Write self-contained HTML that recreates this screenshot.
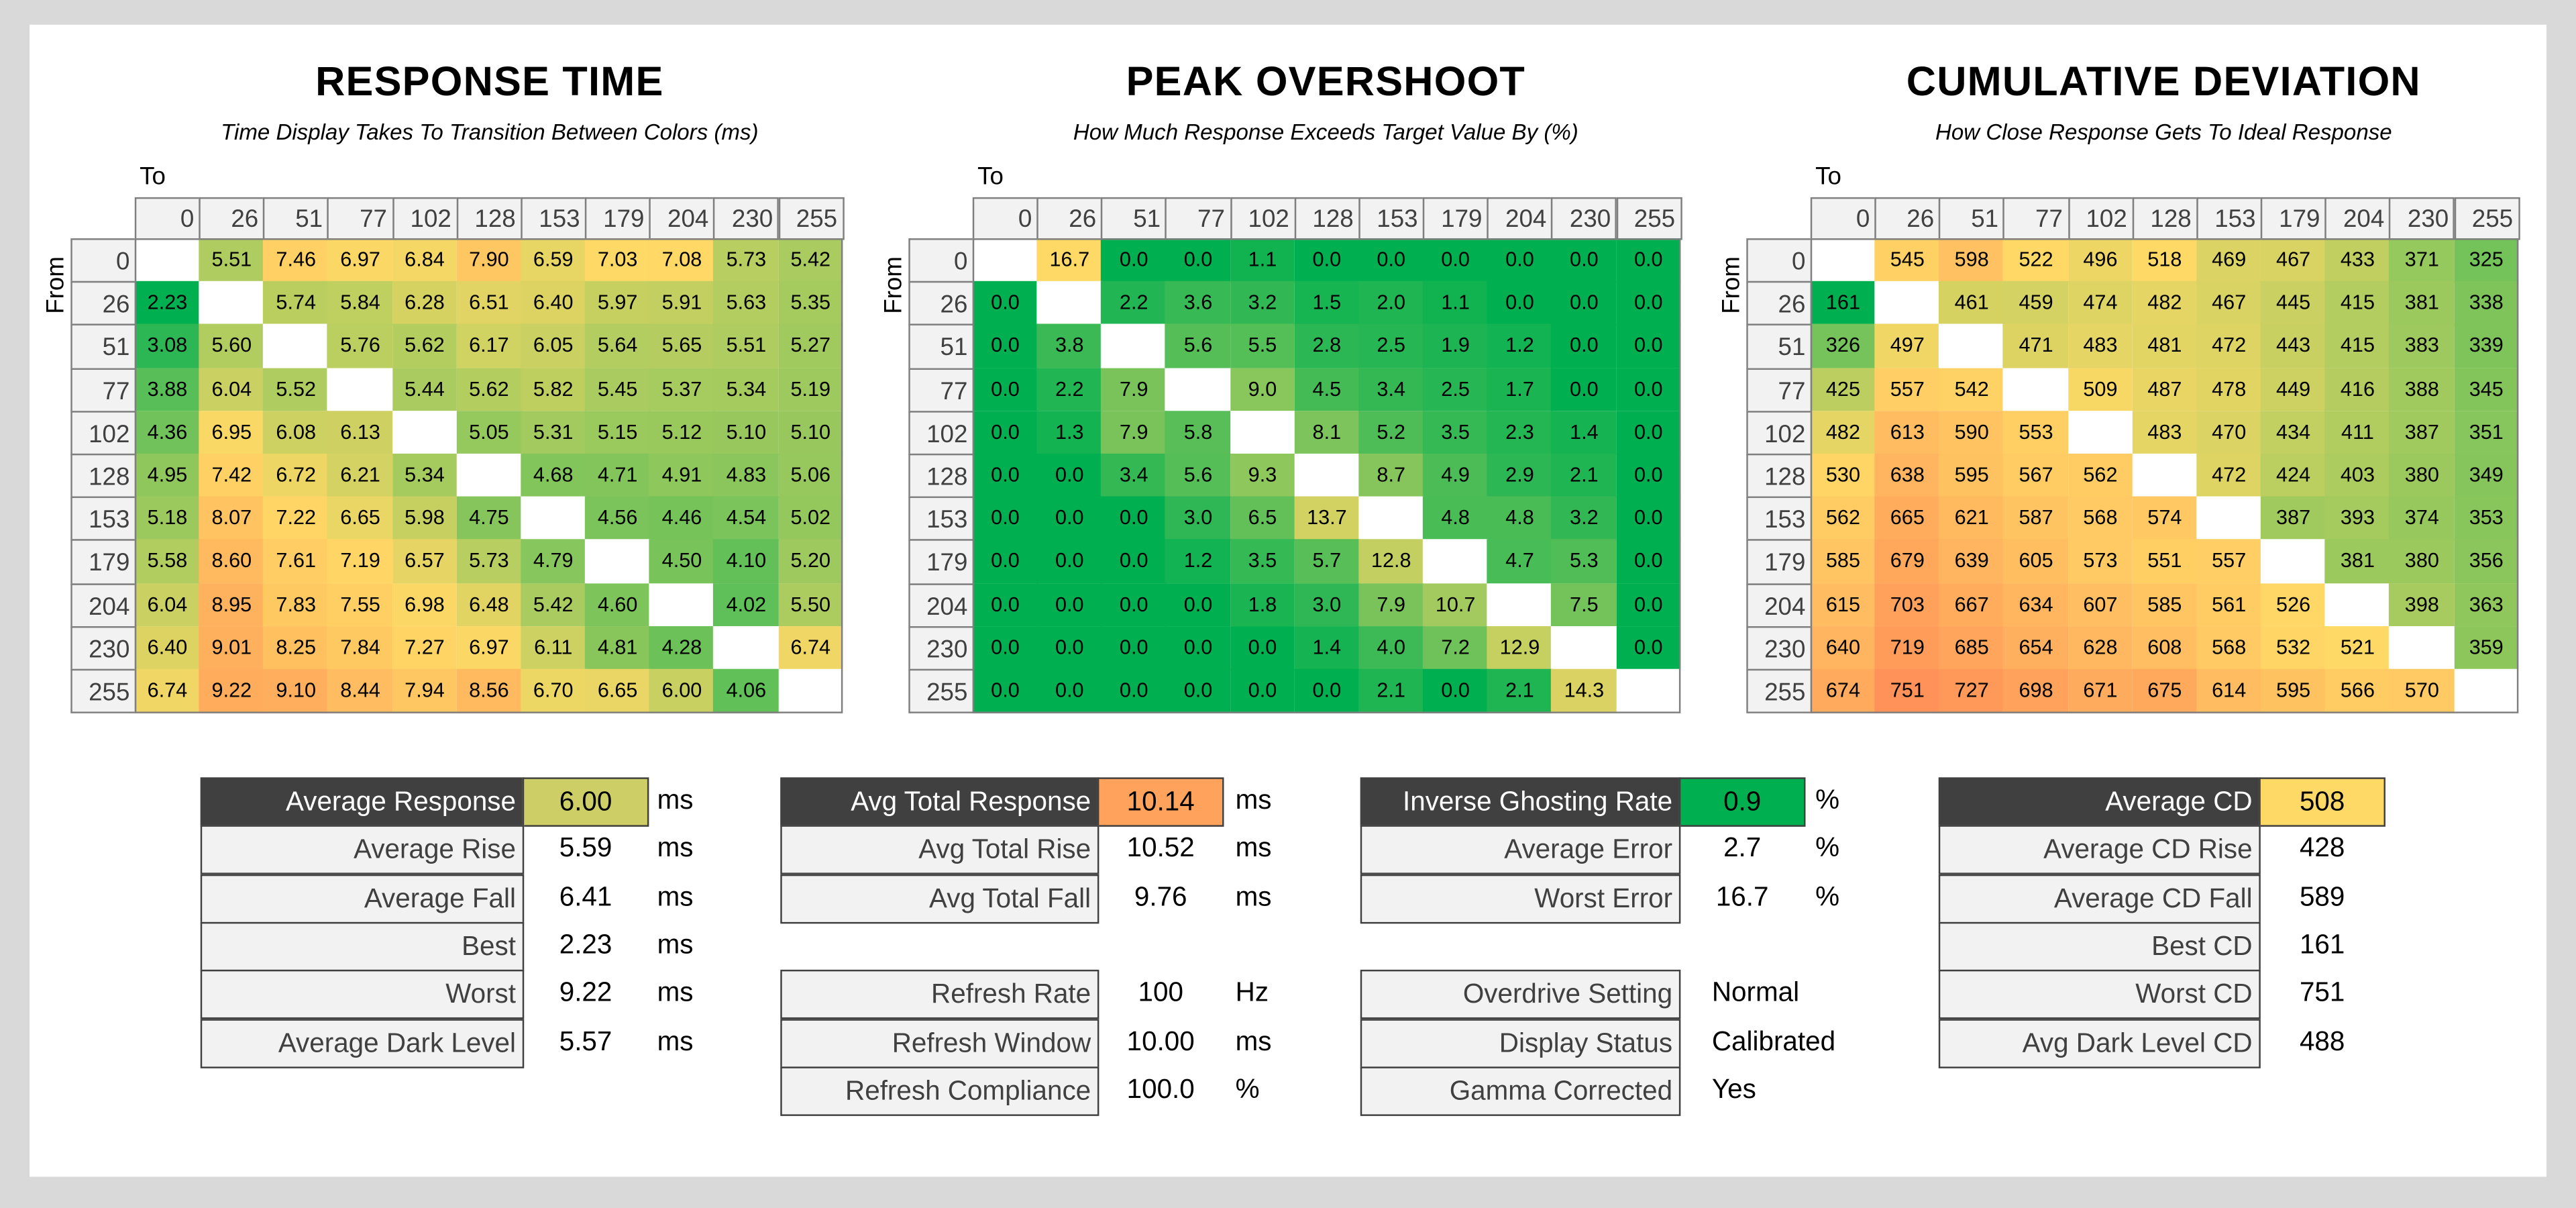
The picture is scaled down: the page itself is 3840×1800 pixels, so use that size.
<!DOCTYPE html>
<html><head><meta charset="utf-8">
<style>
html,body{margin:0;padding:0;background:#d9d9d9;}
body{width:3840px;height:1800px;overflow:hidden;}
#wrap{position:absolute;left:0;top:0;width:1568px;height:735px;transform:scale(2.4490);transform-origin:0 0;font-family:"Liberation Sans",sans-serif;}
#panel{position:absolute;left:18px;top:15px;width:1532px;height:701px;background:#fff;}
.abs{position:absolute;}
.title{font-weight:bold;font-size:25px;text-align:center;width:500px;color:#000;letter-spacing:0.5px;}
.sub{font-style:italic;font-size:13.5px;text-align:center;width:500px;color:#000;}
.cell{position:absolute;box-sizing:border-box;text-align:center;font-size:12.5px;color:#000;}
.hdr{position:absolute;box-sizing:border-box;background:#f2f2f2;border:1px solid #7f7f7f;text-align:right;padding-right:3px;font-size:15px;color:#404040;}
.lbl{position:absolute;box-sizing:border-box;background:#f2f2f2;border:1px solid #404040;text-align:right;padding-right:4px;font-size:16.5px;color:#404040;height:30px;line-height:29px;}
.lbl.dark{background:#404040;color:#fff;}
.val{position:absolute;box-sizing:border-box;text-align:center;font-size:16.5px;color:#000;height:30px;line-height:29px;}
.unit{position:absolute;font-size:16.5px;color:#000;height:30px;line-height:29px;}
</style></head>
<body>
<div id="wrap">
<div id="panel"></div>
</div>
<script>
const levels = ["0","26","51","77","102","128","153","179","204","230","255"];
const rtValues = [
[null,5.51,7.46,6.97,6.84,7.90,6.59,7.03,7.08,5.73,5.42],
[2.23,null,5.74,5.84,6.28,6.51,6.40,5.97,5.91,5.63,5.35],
[3.08,5.60,null,5.76,5.62,6.17,6.05,5.64,5.65,5.51,5.27],
[3.88,6.04,5.52,null,5.44,5.62,5.82,5.45,5.37,5.34,5.19],
[4.36,6.95,6.08,6.13,null,5.05,5.31,5.15,5.12,5.10,5.10],
[4.95,7.42,6.72,6.21,5.34,null,4.68,4.71,4.91,4.83,5.06],
[5.18,8.07,7.22,6.65,5.98,4.75,null,4.56,4.46,4.54,5.02],
[5.58,8.60,7.61,7.19,6.57,5.73,4.79,null,4.50,4.10,5.20],
[6.04,8.95,7.83,7.55,6.98,6.48,5.42,4.60,null,4.02,5.50],
[6.40,9.01,8.25,7.84,7.27,6.97,6.11,4.81,4.28,null,6.74],
[6.74,9.22,9.10,8.44,7.94,8.56,6.70,6.65,6.00,4.06,null]];
const osValues = [
[null,16.7,0.0,0.0,1.1,0.0,0.0,0.0,0.0,0.0,0.0],
[0.0,null,2.2,3.6,3.2,1.5,2.0,1.1,0.0,0.0,0.0],
[0.0,3.8,null,5.6,5.5,2.8,2.5,1.9,1.2,0.0,0.0],
[0.0,2.2,7.9,null,9.0,4.5,3.4,2.5,1.7,0.0,0.0],
[0.0,1.3,7.9,5.8,null,8.1,5.2,3.5,2.3,1.4,0.0],
[0.0,0.0,3.4,5.6,9.3,null,8.7,4.9,2.9,2.1,0.0],
[0.0,0.0,0.0,3.0,6.5,13.7,null,4.8,4.8,3.2,0.0],
[0.0,0.0,0.0,1.2,3.5,5.7,12.8,null,4.7,5.3,0.0],
[0.0,0.0,0.0,0.0,1.8,3.0,7.9,10.7,null,7.5,0.0],
[0.0,0.0,0.0,0.0,0.0,1.4,4.0,7.2,12.9,null,0.0],
[0.0,0.0,0.0,0.0,0.0,0.0,2.1,0.0,2.1,14.3,null]];
const cdValues = [
[null,545,598,522,496,518,469,467,433,371,325],
[161,null,461,459,474,482,467,445,415,381,338],
[326,497,null,471,483,481,472,443,415,383,339],
[425,557,542,null,509,487,478,449,416,388,345],
[482,613,590,553,null,483,470,434,411,387,351],
[530,638,595,567,562,null,472,424,403,380,349],
[562,665,621,587,568,574,null,387,393,374,353],
[585,679,639,605,573,551,557,null,381,380,356],
[615,703,667,634,607,585,561,526,null,398,363],
[640,719,685,654,628,608,568,532,521,null,359],
[674,751,727,698,671,675,614,595,566,570,null]];

const wrap=document.getElementById('wrap');
const G=[0,176,80],Y=[255,217,102],O1=[255,172,92],O2=[255,146,88];
function mix(a,b,t){t=Math.max(0,Math.min(1,t));return 'rgb('+a.map((v,i)=>Math.round(v+(b[i]-v)*t)).join(',')+')';}
function scale3(v,min,mid,max,O){return v<=mid?mix(G,Y,(v-min)/(mid-min)):mix(Y,O,(v-mid)/(max-mid));}
function stats(m){let a=[];m.forEach(r=>r.forEach(v=>{if(v!==null)a.push(v);}));return [Math.min(...a),Math.max(...a)];}
function add(cls,x,y,w,h,txt){const d=document.createElement('div');d.className=cls;d.style.left=x+'px';d.style.top=y+'px';if(w!=null)d.style.width=w+'px';if(h!=null){d.style.height=h+'px';d.style.lineHeight=h+'px';}d.textContent=txt;wrap.appendChild(d);return d;}

const charts=[
{key:'response-time',title:'RESPONSE TIME',sub:'Time Display Takes To Transition Between Colors (ms)',cx:298,x0:82,data:rtValues,dec:2,
 color:(v,mn,mx)=>scale3(v,mn,7.05,mx,O1)},
{key:'peak-overshoot',title:'PEAK OVERSHOOT',sub:'How Much Response Exceeds Target Value By (%)',cx:807,x0:592,data:osValues,dec:1,
 color:(v,mn,mx)=>mix(G,Y,(v-mn)/(mx-mn))},
{key:'cumulative-deviation',title:'CUMULATIVE DEVIATION',sub:'How Close Response Gets To Ideal Response',cx:1317,x0:1102,data:cdValues,dec:0,
 color:(v,mn,mx)=>scale3(v,mn,520,mx,O2)}];
const cw=39.15, rh=26.2, hy=120, ry=145;
charts.forEach(c=>{
  let t=add('abs title',c.cx-250,36,500,null,c.title);
  
  
  let s=add('abs sub',c.cx-250,73,500,null,c.sub);
  
  
  let to=add('abs',c.x0+3,99,30,null,'To');to.style.fontSize='15px';
  
  
  let fr=add('abs','',0,0,null,'From');
  fr.style.left=(c.x0-73)+'px';fr.style.top=(165)+'px';fr.style.width='50px';fr.style.fontSize='15px';fr.style.textAlign='center';fr.style.transform='rotate(-90deg)';
  
  
  const [mn,mx]=stats(c.data);
  levels.forEach((l,i)=>{
    let h=add('hdr',c.x0+i*cw,hy,cw+1,rh-0.5,l);
    
    
    let r=add('hdr',c.x0-cw,ry+i*rh,cw+1,rh+1,l);
    
    
  });
  c.data.forEach((row,i)=>row.forEach((v,j)=>{
    let d=add('cell',c.x0+j*cw,ry+i*rh,cw+0.6,rh+0.6,v===null?'':v.toFixed(c.dec));
    d.style.background=v===null?'#fff':c.color(v,mn,mx);
    
    
  }));
  let b=add('abs',c.x0,ry,11*cw,11*rh,'');b.style.border='1px solid #7f7f7f';b.style.boxSizing='border-box';b.style.height=(11*rh+1)+'px';
  
  
});

const tables=[
{key:'rt-stats',lx:122,vx:318,ux:400,rows:[
 [0,'Average Response','6.00','ms','#cdcf66'],[1,'Average Rise','5.59','ms'],[2,'Average Fall','6.41','ms'],[3,'Best','2.23','ms'],[4,'Worst','9.22','ms'],[5,'Average Dark Level','5.57','ms']]},
{key:'total-stats',lx:475,vx:668,ux:752,rows:[
 [0,'Avg Total Response','10.14','ms','#ffa25c'],[1,'Avg Total Rise','10.52','ms'],[2,'Avg Total Fall','9.76','ms'],[4,'Refresh Rate','100','Hz'],[5,'Refresh Window','10.00','ms'],[6,'Refresh Compliance','100.0','%']]},
{key:'overshoot-stats',lx:828,vx:1022,ux:1105,rows:[
 [0,'Inverse Ghosting Rate','0.9','%','#00b050'],[1,'Average Error','2.7','%'],[2,'Worst Error','16.7','%'],[4,'Overdrive Setting','Normal',''],[5,'Display Status','Calibrated',''],[6,'Gamma Corrected','Yes','']]},
{key:'cd-stats',lx:1180,vx:1375,ux:1460,rows:[
 [0,'Average CD','508','','#ffd966'],[1,'Average CD Rise','428',''],[2,'Average CD Fall','589',''],[3,'Best CD','161',''],[4,'Worst CD','751',''],[5,'Avg Dark Level CD','488','']]}];
const ty=473, trh=29.3;
tables.forEach(t=>t.rows.forEach(r=>{
  const y=ty+r[0]*trh;
  const slug=r[1].toLowerCase().replace(/ /g,'-');
  let l=add('lbl'+(r[4]?' dark':''),t.lx,y,t.vx-t.lx+1,null,r[1]);
  
  
  let v=add('val',t.vx,y,77,null,r[2]);
  const text=/[A-Za-z]/.test(r[2]);
  if(text){v.style.textAlign='left';v.style.left=(t.vx+20)+'px';v.style.width='120px';}
  if(r[4]){v.style.background=r[4];v.style.border='1px solid #404040';}
  
  
  if(r[3]){let u=add('unit',t.ux,y,null,null,r[3]);
  
  }
}));
</script>
</body></html>
